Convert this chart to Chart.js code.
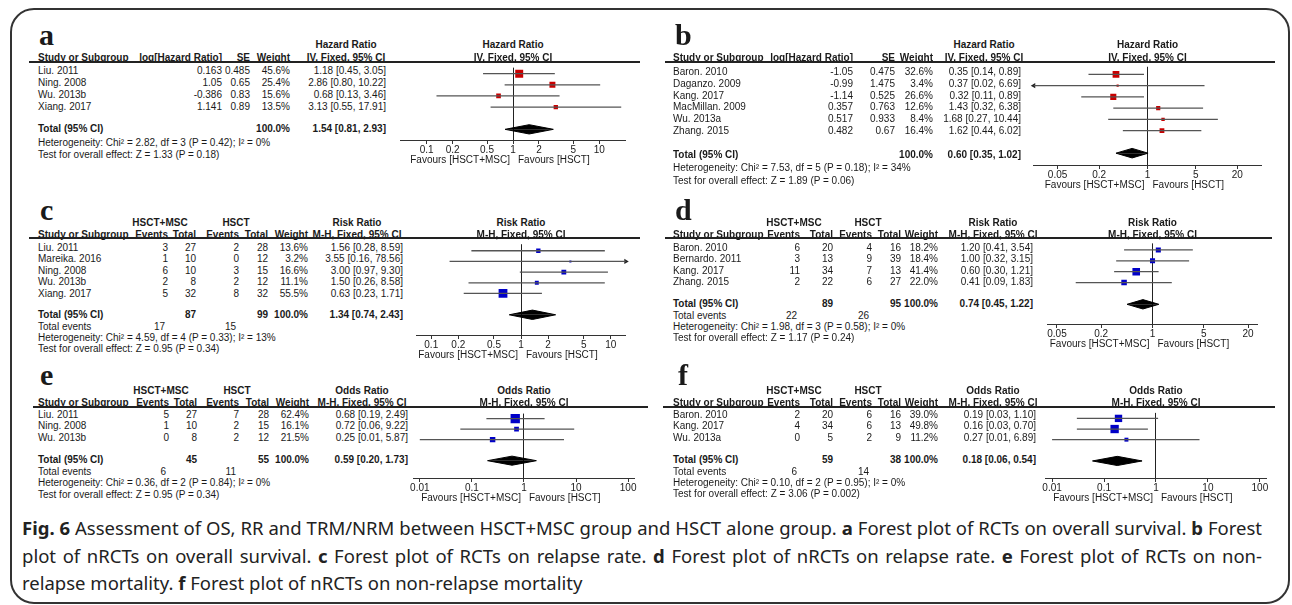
<!DOCTYPE html>
<html>
<head>
<meta charset="utf-8">
<script src="https://cdn.jsdelivr.net/npm/chart.js@4.4.1/dist/chart.umd.min.js"></script>
<style>
  body { margin: 0; background: #fff; }
  #fig { position: relative; width: 1292px; height: 605px; overflow: hidden; background: #fff;
         font-family: "Liberation Sans", Arial, sans-serif; color: #1a1a1a; }
  .frame { position: absolute; left: 10px; top: 8px; width: 1280px; height: 596px; border: 2px solid #333;
           border-radius: 24px; box-sizing: border-box; }
  .t { position: absolute; font-size: 10px; line-height: 12px; white-space: nowrap; }
  .b { font-weight: bold; }
  .r { transform: translateX(-100%); }
  .c { transform: translateX(-50%); }
  .letter { position: absolute; font-family: "Liberation Serif", "Times New Roman", serif; font-weight: bold;
            font-size: 30px; line-height: 30px; }
  .hl { position: absolute; height: 1.5px; background: #222; }
  canvas { position: absolute; }
  .cap { position: absolute; left: 22px; font-family: "Noto Sans", sans-serif; font-size: 18.5px;
         line-height: 27px; color: #222; white-space: nowrap; }
</style>
</head>
<body>
<div id="fig">
  <div class="frame"></div>
</div>
<script>
// ---------- a: OS, RCTs ----------
const aStudy = ['Liu. 2011', 'Ning. 2008', 'Wu. 2013b', 'Xiang. 2017'];
const aLogHR = ['0.163', '1.05', '-0.386', '1.141'];
const aSE = ['0.485', '0.65', '0.83', '0.89'];
const aWeight = [45.6, 25.4, 15.6, 13.5];
const aEst = [1.18, 2.86, 0.68, 3.13];
const aLow = [0.45, 0.80, 0.13, 0.55];
const aHigh = [3.05, 10.22, 3.46, 17.91];
const aTotal = [1.54, 0.81, 2.93];
const aHet = 'Heterogeneity: Chi² = 2.82, df = 3 (P = 0.42); I² = 0%';
const aTest = 'Test for overall effect: Z = 1.33 (P = 0.18)';
const aTicks = [0.1, 0.2, 0.5, 1, 2, 5, 10];
const aRange = [0.05, 20];

// ---------- b: OS, nRCTs ----------
const bStudy = ['Baron. 2010', 'Daganzo. 2009', 'Kang. 2017', 'MacMillan. 2009', 'Wu. 2013a', 'Zhang. 2015'];
const bLogHR = ['-1.05', '-0.99', '-1.14', '0.357', '0.517', '0.482'];
const bSE = ['0.475', '1.475', '0.525', '0.763', '0.933', '0.67'];
const bWeight = [32.6, 3.4, 26.6, 12.6, 8.4, 16.4];
const bEst = [0.35, 0.37, 0.32, 1.43, 1.68, 1.62];
const bLow = [0.14, 0.02, 0.11, 0.32, 0.27, 0.44];
const bHigh = [0.89, 6.69, 0.89, 6.38, 10.44, 6.02];
const bTotal = [0.60, 0.35, 1.02];
const bHet = 'Heterogeneity: Chi² = 7.53, df = 5 (P = 0.18); I² = 34%';
const bTest = 'Test for overall effect: Z = 1.89 (P = 0.06)';
const bTicks = [0.05, 0.2, 1, 5, 20];
const bRange = [0.0226, 44.3];

// ---------- c: relapse, RCTs ----------
const cStudy = ['Liu. 2011', 'Mareika. 2016', 'Ning. 2008', 'Wu. 2013b', 'Xiang. 2017'];
const cEv1 = [3, 1, 6, 2, 5];
const cTot1 = [27, 10, 10, 8, 32];
const cEv2 = [2, 0, 3, 2, 8];
const cTot2 = [28, 12, 15, 12, 32];
const cWeight = [13.6, 3.2, 16.6, 11.1, 55.5];
const cEst = [1.56, 3.55, 3.00, 1.50, 0.63];
const cLow = [0.28, 0.16, 0.97, 0.26, 0.23];
const cHigh = [8.59, 78.56, 9.30, 8.58, 1.71];
const cTotal = [1.34, 0.74, 2.43];
const cTotN = [87, 99];
const cTotEv = [17, 15];
const cHet = 'Heterogeneity: Chi² = 4.59, df = 4 (P = 0.33); I² = 13%';
const cTest = 'Test for overall effect: Z = 0.95 (P = 0.34)';
const cTicks = [0.1, 0.2, 0.5, 1, 2, 5, 10];
const cRange = [0.068, 14.7];

// ---------- d: relapse, nRCTs ----------
const dStudy = ['Baron. 2010', 'Bernardo. 2011', 'Kang. 2017', 'Zhang. 2015'];
const dEv1 = [6, 3, 11, 2];
const dTot1 = [20, 13, 34, 22];
const dEv2 = [4, 9, 7, 6];
const dTot2 = [16, 39, 13, 27];
const dWeight = [18.2, 18.4, 41.4, 22.0];
const dEst = [1.20, 1.00, 0.60, 0.41];
const dLow = [0.41, 0.32, 0.30, 0.09];
const dHigh = [3.54, 3.15, 1.21, 1.83];
const dTotal = [0.74, 0.45, 1.22];
const dTotN = [89, 95];
const dTotEv = [22, 26];
const dHet = 'Heterogeneity: Chi² = 1.98, df = 3 (P = 0.58); I² = 0%';
const dTest = 'Test for overall effect: Z = 1.17 (P = 0.24)';
const dTicks = [0.05, 0.2, 1, 5, 20];
const dRange = [0.037, 27];

// ---------- e: NRM, RCTs ----------
const eStudy = ['Liu. 2011', 'Ning. 2008', 'Wu. 2013b'];
const eEv1 = [5, 1, 0];
const eTot1 = [27, 10, 8];
const eEv2 = [7, 2, 2];
const eTot2 = [28, 15, 12];
const eWeight = [62.4, 16.1, 21.5];
const eEst = [0.68, 0.72, 0.25];
const eLow = [0.19, 0.06, 0.01];
const eHigh = [2.49, 9.22, 5.87];
const eTotal = [0.59, 0.20, 1.73];
const eTotN = [45, 55];
const eTotEv = [6, 11];
const eHet = 'Heterogeneity: Chi² = 0.36, df = 2 (P = 0.84); I² = 0%';
const eTest = 'Test for overall effect: Z = 0.95 (P = 0.34)';
const eTicks = [0.01, 0.1, 1, 10, 100];
const eRange = [0.0076, 132];

// ---------- f: NRM, nRCTs ----------
const fStudy = ['Baron. 2010', 'Kang. 2017', 'Wu. 2013a'];
const fEv1 = [2, 4, 0];
const fTot1 = [20, 34, 5];
const fEv2 = [6, 6, 2];
const fTot2 = [16, 13, 9];
const fWeight = [39.0, 49.8, 11.2];
const fEst = [0.19, 0.16, 0.27];
const fLow = [0.03, 0.03, 0.01];
const fHigh = [1.10, 0.70, 6.89];
const fTotal = [0.18, 0.06, 0.54];
const fTotN = [59, 38];
const fTotEv = [6, 14];
const fHet = 'Heterogeneity: Chi² = 0.10, df = 2 (P = 0.95); I² = 0%';
const fTest = 'Test for overall effect: Z = 3.06 (P = 0.002)';
const fTicks = [0.01, 0.1, 1, 10, 100];
const fRange = [0.0076, 132];

const RED = '#c80000', BLUE = '#0000c8';
const AXIS_H = 18;

const fig = document.getElementById('fig');

function put(x, y, s, bold, align) {
  const d = document.createElement('div');
  d.className = 't' + (bold ? ' b' : '') + (align === 'r' ? ' r' : align === 'c' ? ' c' : '');
  d.style.left = x + 'px';
  d.style.top = (y - 6) + 'px';
  d.textContent = s;
  fig.appendChild(d);
}
function letter(x, base, s) {
  const d = document.createElement('div');
  d.className = 'letter';
  d.style.left = x + 'px';
  d.style.top = (base - 25) + 'px';
  d.textContent = s;
  fig.appendChild(d);
}
function hline(x0, x1, y) {
  const d = document.createElement('div');
  d.className = 'hl';
  d.style.left = x0 + 'px';
  d.style.width = (x1 - x0) + 'px';
  d.style.top = (y - 0.75) + 'px';
  fig.appendChild(d);
}
const ci = (e, l, h) => e.toFixed(2) + ' [' + l.toFixed(2) + ', ' + h.toFixed(2) + ']';

function forest(p) {
  const W = p.x1 - p.x0, H = p.axis - p.top + AXIS_H;
  const cv = document.createElement('canvas');
  cv.width = W; cv.height = H;
  cv.style.left = p.x0 + 'px'; cv.style.top = p.top + 'px';
  cv.style.width = W + 'px'; cv.style.height = H + 'px';
  fig.appendChild(cv);

  const n = p.est.length;
  const ds = [];
  p.est.forEach((e, i) => {
    ds.push({ type: 'line', data: [{ x: p.low[i], y: i }, { x: p.high[i], y: i }],
      borderColor: '#555', borderWidth: 1.3, pointRadius: 0, fill: false });
  });
  ds.push({ type: 'scatter', data: p.est.map((e, i) => ({ x: e, y: i })),
    pointStyle: 'rect', backgroundColor: p.color, borderWidth: 0,
    pointRadius: p.weight.map(w => Math.max(1.2, 1.18 * Math.sqrt(w) * Math.SQRT1_2)) });
  // pooled diamond
  const t = n + 1, h = 5 / p.step;
  const [te, tl, th] = p.total;
  ds.push({ type: 'line', data: [{ x: tl, y: t }, { x: te, y: t - h }, { x: th, y: t }],
    borderColor: '#000', borderWidth: 1, backgroundColor: '#000', pointRadius: 0, fill: { value: t } });
  ds.push({ type: 'line', data: [{ x: tl, y: t }, { x: te, y: t + h }, { x: th, y: t }],
    borderColor: '#000', borderWidth: 1, backgroundColor: '#000', pointRadius: 0, fill: { value: t } });
  // arrows where the interval runs off the scale
  const arrows = [], rot = [];
  p.est.forEach((e, i) => {
    if (p.low[i] < p.range[0]) { arrows.push({ x: p.range[0], y: i }); rot.push(-90); }
    if (p.high[i] > p.range[1]) { arrows.push({ x: p.range[1], y: i }); rot.push(90); }
  });
  if (arrows.length) {
    ds.push({ type: 'scatter', data: arrows, pointStyle: 'triangle', rotation: rot,
      pointRadius: 3, backgroundColor: '#222', borderWidth: 0, clip: 6 });
  }

  const chart = new Chart(cv.getContext('2d'), {
    type: 'scatter',
    data: { datasets: ds },
    options: {
      responsive: false, animation: false, devicePixelRatio: 1,
      layout: { padding: 0 },
      plugins: { legend: { display: false }, tooltip: { enabled: false } },
      scales: {
        x: {
          type: 'logarithmic', min: p.range[0], max: p.range[1],
          afterBuildTicks: s => { s.ticks = p.ticks.map(v => ({ value: v })); },
          afterFit: s => { s.height = AXIS_H; },
          ticks: { callback: v => String(v), autoSkip: false, maxRotation: 0, padding: 0,
                   color: '#1a1a1a', font: { family: 'Liberation Sans', size: 10 } },
          grid: { color: c => (c.tick && c.tick.value === 1) ? '#222' : 'rgba(0,0,0,0)',
                  tickColor: '#333', tickLength: 4, lineWidth: 1 },
          border: { display: true, color: '#333', width: 1 }
        },
        y: {
          type: 'linear', reverse: true, display: false,
          min: -(p.mark0 - p.top) / p.step, max: (p.axis - p.mark0) / p.step
        }
      }
    }
  });

  // plot headers and favours labels
  const mid = (p.x0 + p.x1) / 2;
  put(mid, p.head1, p.title, true, 'c');
  put(mid, p.head2, p.method, true, 'c');
  const one = chart.scales.x.getPixelForValue(1) + p.x0;
  put(one - 3, p.axis + 20, 'Favours [HSCT+MSC]', false, 'r');
  put(one + 5, p.axis + 20, 'Favours [HSCT]', false, 'l');
}

function hrPanel(d, L) {
  letter(L.letterX, L.letterY, L.letter);
  put(L.ciHead, L.head1, 'Hazard Ratio', true, 'c');
  put(L.name, L.head2, 'Study or Subgroup', true);
  put(L.est, L.head2, 'log[Hazard Ratio]', true, 'r');
  put(L.se, L.head2, 'SE', true, 'r');
  put(L.w, L.head2, 'Weight', true, 'r');
  put(L.ciHead, L.head2, 'IV, Fixed, 95% CI', true, 'c');
  hline(L.line[0], L.line[1], L.line[2]);
  d.study.forEach((st, i) => {
    const y = L.row0 + L.rowStep * i;
    put(L.name, y, st);
    put(L.est, y, d.log[i], false, 'r');
    put(L.se, y, d.se[i], false, 'r');
    put(L.w, y, d.weight[i].toFixed(1) + '%', false, 'r');
    put(L.ci, y, ci(d.est[i], d.low[i], d.high[i]), false, 'r');
  });
  put(L.name, L.totalY, 'Total (95% CI)', true);
  put(L.w, L.totalY, '100.0%', true, 'r');
  put(L.ci, L.totalY, ci(d.total[0], d.total[1], d.total[2]), true, 'r');
  put(L.name, L.hetY, d.het);
  put(L.name, L.testY, d.test);
  forest(Object.assign({ est: d.est, low: d.low, high: d.high, weight: d.weight, total: d.total,
    ticks: d.ticks, range: d.range, color: RED, title: 'Hazard Ratio', method: 'IV, Fixed, 95% CI',
    head1: L.head1, head2: L.head2 }, L.plot));
}

function dichPanel(d, L) {
  letter(L.letterX, L.letterY, L.letter);
  put(L.grp1, L.head1, 'HSCT+MSC', true, 'c');
  put(L.grp2, L.head1, 'HSCT', true, 'c');
  put(L.ciHead, L.head1, d.title, true, 'c');
  put(L.name, L.head2, 'Study or Subgroup', true);
  put(L.ev1, L.head2, 'Events', true, 'r');
  put(L.tot1, L.head2, 'Total', true, 'r');
  put(L.ev2, L.head2, 'Events', true, 'r');
  put(L.tot2, L.head2, 'Total', true, 'r');
  put(L.w, L.head2, 'Weight', true, 'r');
  put(L.ciHead, L.head2, 'M-H, Fixed, 95% CI', true, 'c');
  hline(L.line[0], L.line[1], L.line[2]);
  d.study.forEach((st, i) => {
    const y = L.row0 + L.rowStep * i;
    put(L.name, y, st);
    put(L.ev1, y, String(d.ev1[i]), false, 'r');
    put(L.tot1, y, String(d.tot1[i]), false, 'r');
    put(L.ev2, y, String(d.ev2[i]), false, 'r');
    put(L.tot2, y, String(d.tot2[i]), false, 'r');
    put(L.w, y, d.weight[i].toFixed(1) + '%', false, 'r');
    put(L.ci, y, ci(d.est[i], d.low[i], d.high[i]), false, 'r');
  });
  put(L.name, L.totalY, 'Total (95% CI)', true);
  put(L.tot1, L.totalY, String(d.totN[0]), true, 'r');
  put(L.tot2, L.totalY, String(d.totN[1]), true, 'r');
  put(L.w, L.totalY, '100.0%', true, 'r');
  put(L.ci, L.totalY, ci(d.total[0], d.total[1], d.total[2]), true, 'r');
  put(L.name, L.evY, 'Total events');
  put(L.ev1 - 3, L.evY, String(d.totEv[0]), false, 'r');
  put(L.ev2 - 3, L.evY, String(d.totEv[1]), false, 'r');
  put(L.name, L.hetY, d.het);
  put(L.name, L.testY, d.test);
  forest(Object.assign({ est: d.est, low: d.low, high: d.high, weight: d.weight, total: d.total,
    ticks: d.ticks, range: d.range, color: BLUE, title: d.title, method: 'M-H, Fixed, 95% CI',
    head1: L.head1, head2: L.head2 }, L.plot));
}

// ---------- layout (pixel positions only) ----------
hrPanel({ study: aStudy, log: aLogHR, se: aSE, weight: aWeight, est: aEst, low: aLow, high: aHigh,
  total: aTotal, het: aHet, test: aTest, ticks: aTicks, range: aRange },
  { letter: 'a', letterX: 39, letterY: 45, head1: 45, head2: 57.5, line: [29, 640, 62],
    name: 38, est: 222, se: 250, w: 290, ci: 386, ciHead: 346,
    row0: 71, rowStep: 12, totalY: 128.5, hetY: 143, testY: 155,
    plot: { x0: 395, x1: 631, top: 62, axis: 140, mark0: 68.5, step: 12 } });

hrPanel({ study: bStudy, log: bLogHR, se: bSE, weight: bWeight, est: bEst, low: bLow, high: bHigh,
  total: bTotal, het: bHet, test: bTest, ticks: bTicks, range: bRange },
  { letter: 'b', letterX: 675, letterY: 45, head1: 45, head2: 57.5, line: [665, 1275, 62],
    name: 673, est: 853, se: 895, w: 933, ci: 1021, ciHead: 984,
    row0: 72, rowStep: 11.8, totalY: 155, hetY: 168, testY: 181,
    plot: { x0: 1029, x1: 1266, top: 62, axis: 165, mark0: 70, step: 11.8 } });

dichPanel({ study: cStudy, ev1: cEv1, tot1: cTot1, ev2: cEv2, tot2: cTot2, weight: cWeight, est: cEst,
  low: cLow, high: cHigh, total: cTotal, totN: cTotN, totEv: cTotEv, het: cHet, test: cTest,
  ticks: cTicks, range: cRange, title: 'Risk Ratio' },
  { letter: 'c', letterX: 40, letterY: 220, head1: 223, head2: 234.5, line: [29, 640, 238],
    name: 38, ev1: 168, tot1: 196, ev2: 239, tot2: 268, w: 308, ci: 403, ciHead: 357,
    grp1: 160, grp2: 236,
    row0: 247.5, rowStep: 11.5, totalY: 315, evY: 327, hetY: 338, testY: 349,
    plot: { x0: 410, x1: 632, top: 238, axis: 335, mark0: 245, step: 11.4 } });

dichPanel({ study: dStudy, ev1: dEv1, tot1: dTot1, ev2: dEv2, tot2: dTot2, weight: dWeight, est: dEst,
  low: dLow, high: dHigh, total: dTotal, totN: dTotN, totEv: dTotEv, het: dHet, test: dTest,
  ticks: dTicks, range: dRange, title: 'Risk Ratio' },
  { letter: 'd', letterX: 675, letterY: 220, head1: 223, head2: 234.5, line: [665, 1272, 238],
    name: 673, ev1: 800, tot1: 833, ev2: 872, tot2: 901, w: 938, ci: 1033, ciHead: 993,
    grp1: 794, grp2: 868,
    row0: 247.5, rowStep: 11.6, totalY: 304, evY: 316, hetY: 327, testY: 338,
    plot: { x0: 1042, x1: 1263, top: 238, axis: 324, mark0: 245, step: 11.6 } });

dichPanel({ study: eStudy, ev1: eEv1, tot1: eTot1, ev2: eEv2, tot2: eTot2, weight: eWeight, est: eEst,
  low: eLow, high: eHigh, total: eTotal, totN: eTotN, totEv: eTotEv, het: eHet, test: eTest,
  ticks: eTicks, range: eRange, title: 'Odds Ratio' },
  { letter: 'e', letterX: 40, letterY: 385, head1: 391, head2: 403, line: [33, 648, 407],
    name: 38, ev1: 169, tot1: 197, ev2: 239, tot2: 269, w: 309, ci: 408, ciHead: 362,
    grp1: 161, grp2: 237,
    row0: 414.5, rowStep: 11.7, totalY: 460, evY: 471.5, hetY: 483, testY: 495,
    plot: { x0: 407, x1: 641, top: 407, axis: 478, mark0: 412.5, step: 11.6 } });

dichPanel({ study: fStudy, ev1: fEv1, tot1: fTot1, ev2: fEv2, tot2: fTot2, weight: fWeight, est: fEst,
  low: fLow, high: fHigh, total: fTotal, totN: fTotN, totEv: fTotEv, het: fHet, test: fTest,
  ticks: fTicks, range: fRange, title: 'Odds Ratio' },
  { letter: 'f', letterX: 678, letterY: 385, head1: 391, head2: 403, line: [663, 1275, 407],
    name: 673, ev1: 800, tot1: 833, ev2: 872, tot2: 901, w: 938, ci: 1036, ciHead: 993,
    grp1: 794, grp2: 868,
    row0: 414.5, rowStep: 11.7, totalY: 460, evY: 472, hetY: 483, testY: 494,
    plot: { x0: 1040, x1: 1272, top: 407, axis: 478, mark0: 413, step: 11.6 } });

// ---------- caption (first two lines justified to 1240px) ----------
const capLines = [
  ['<b>Fig. 6</b> Assessment of OS, RR and TRM/NRM between HSCT+MSC group and HSCT alone group. <b>a</b> Forest plot of RCTs on overall survival. <b>b</b> Forest', true],
  ['plot of nRCTs on overall survival. <b>c</b> Forest plot of RCTs on relapse rate. <b>d</b> Forest plot of nRCTs on relapse rate. <b>e</b> Forest plot of RCTs on non-', true],
  ['relapse mortality. <b>f</b> Forest plot of nRCTs on non-relapse mortality', false]
];
capLines.forEach(([html, just], i) => {
  const d = document.createElement('div');
  d.className = 'cap';
  d.style.top = (514 + i * 27.5) + 'px';
  d.innerHTML = html;
  fig.appendChild(d);
  if (just) {
    const w = d.getBoundingClientRect().width;
    const gaps = (d.textContent.match(/ /g) || []).length;
    d.style.wordSpacing = ((1240 - w) / gaps) + 'px';
  }
});
</script>
</body>
</html>
